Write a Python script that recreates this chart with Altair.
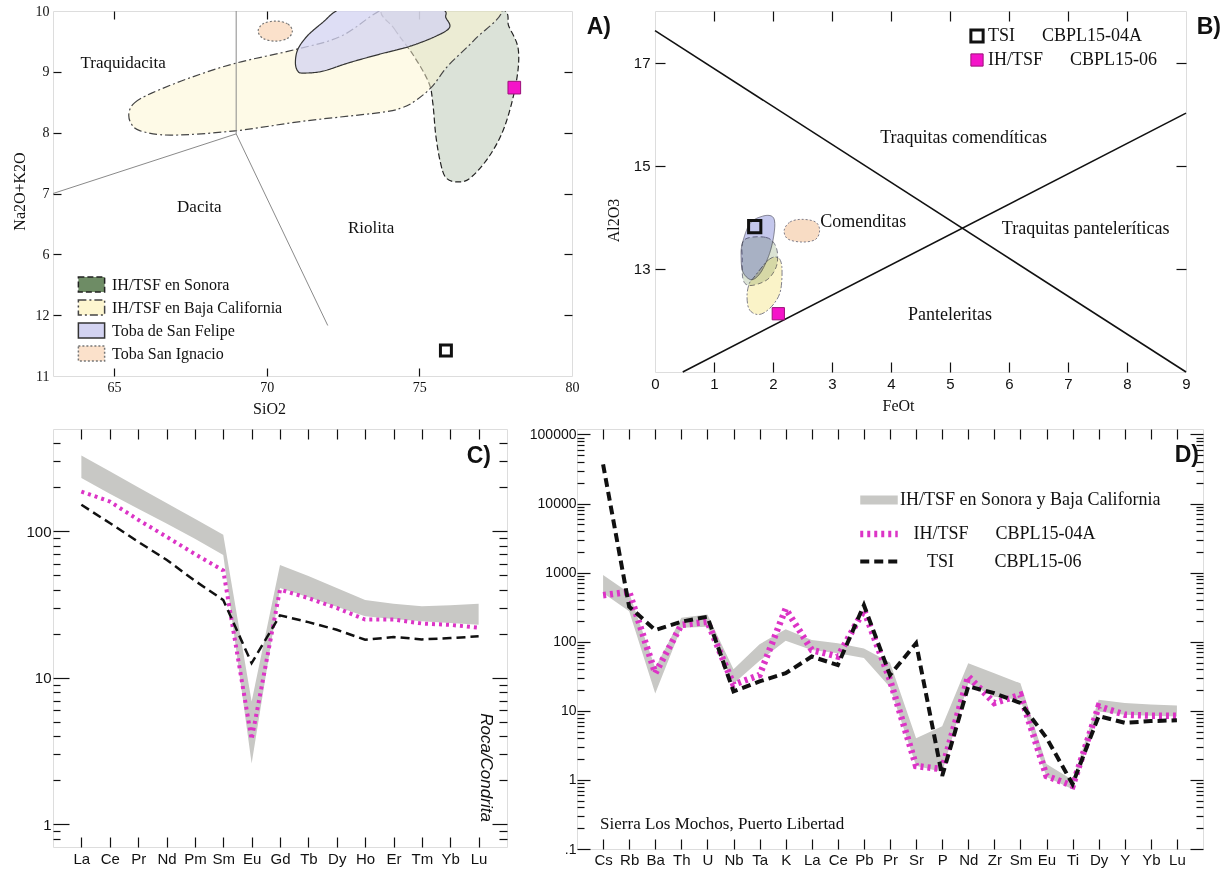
import altair as alt
import pandas as pd

SERIF = "Liberation Serif"
SANS = "Liberation Sans"
INK = "#111111"
CREAM = "#fdfdf3"
MAGENTA_LINE = "#dc34c6"
MAGENTA_MARK = "#f514c9"
MAGENTA_EDGE = "#9c1079"
BAND_GRAY = "#c8c8c5"
NB = "\u00a0"       # non-breaking space, keeps label gaps
ZW = "\u200b"       # zero-width space, keeps leading gaps from being trimmed

# ---------------- A) TAS diagram: SiO2 vs Na2O+K2O ----------------
tas_units = ["IH/TSF en Sonora", "IH/TSF en Baja California", "Toba de San Felipe", "Toba San Ignacio"]
tas_unit_fill = ["#6e8c65", "#fdf6d0", "#d3d3f1", "#fbe1cb"]
tas_unit_edge = ["#222222", "#444444", "#333333", "#777777"]
tas_unit_opacity = [0.25, 1.0, 1.0, 1.0]
tas_unit_dash = [[6, 3], [8, 3, 2, 3], [1, 0], [2, 2]]

sonora_sio2 = [73.82, 74.19, 74.82, 75.31, 75.44, 75.54, 75.69, 75.87, 76.25, 76.68, 77.30, 77.80, 78.17, 78.24, 77.93, 77.68, 75.75]
sonora_alk = [10.05, 9.70, 9.26, 8.82, 8.49, 7.95, 7.51, 7.26, 7.19, 7.26, 7.62, 8.11, 8.82, 9.37, 9.75, 10.05, 10.35]
baja_sio2 = [65.49, 65.67, 66.23, 67.48, 68.97, 70.96, 72.45, 73.88, 75.80, 77.68, 76.81, 75.94, 75.44, 74.94, 74.44, 73.70, 71.21, 68.97, 66.86, 65.86, 65.55]
baja_alk = [8.33, 8.49, 8.65, 8.90, 9.14, 9.37, 9.59, 10.05, 10.35, 10.05, 9.53, 9.10, 8.77, 8.55, 8.41, 8.33, 8.19, 8.03, 7.96, 8.03, 8.16]
felipe_sio2 = [72.45, 71.83, 71.33, 71.02, 70.94, 71.02, 71.21, 71.83, 72.70, 73.70, 74.69, 75.56, 75.99, 75.87, 75.69, 74.00]
felipe_alk = [10.05, 9.81, 9.59, 9.37, 9.15, 9.01, 8.98, 9.01, 9.15, 9.29, 9.42, 9.59, 9.73, 9.89, 10.05, 10.35]
ignacio_sio2 = [70.84, 70.68, 70.28, 69.88, 69.72, 69.88, 70.28, 70.68]
ignacio_alk = [9.67, 9.79, 9.835, 9.79, 9.67, 9.55, 9.505, 9.55]

tas_line_x1 = [69.0, 63.0, 69.0]
tas_line_y1 = [10.0, 7.0, 7.98]
tas_line_x2 = [69.0, 69.0, 72.0]
tas_line_y2 = [7.98, 7.98, 4.83]

tas_names = ["Traquidacita", "Dacita", "Riolita"]
tas_names_x = [65.30, 67.79, 73.42]
tas_names_y = [9.15, 6.78, 6.44]

tas_tsi = (75.87, 4.42)
tas_ihtsf = (78.11, 8.74)

# ---------------- B) Al2O3 vs FeOt ----------------
feo_line_x1 = [0.0, 0.47]
feo_line_y1 = [17.62, 11.0]
feo_line_x2 = [9.0, 9.0]
feo_line_y2 = [11.0, 16.02]

feo_names = ["Traquitas comendíticas", "Comenditas", "Traquitas panteleríticas", "Panteleritas"]
feo_names_x = [5.23, 3.53, 7.30, 5.00]
feo_names_y = [15.54, 13.90, 13.78, 12.11]

b_green_feo = [1.51, 1.88, 2.05, 2.07, 1.95, 1.78, 1.58, 1.49, 1.48]
b_green_al = [13.56, 13.61, 13.43, 13.10, 12.84, 12.72, 12.68, 12.81, 13.17]
b_blue_feo = [1.48, 1.61, 1.82, 1.98, 2.03, 2.00, 1.92, 1.78, 1.63, 1.49, 1.46]
b_blue_al = [13.49, 13.88, 14.02, 14.02, 13.88, 13.56, 13.23, 12.91, 12.79, 12.94, 13.23]
b_yellow_feo = [1.68, 1.92, 2.08, 2.15, 2.13, 2.02, 1.85, 1.71, 1.59, 1.56, 1.60]
b_yellow_al = [12.84, 13.17, 13.22, 13.04, 12.59, 12.33, 12.15, 12.12, 12.23, 12.49, 12.72]
b_peach_feo = [2.19, 2.29, 2.49, 2.72, 2.79, 2.72, 2.49, 2.25]
b_peach_al = [13.75, 13.91, 13.96, 13.91, 13.75, 13.57, 13.52, 13.58]

b_samples = ["TSI" + NB * 6 + "CBPL15-04A", "IH/TSF" + NB * 6 + "CBPL15-06"]
b_samples_feo = [1.69, 2.09]
b_samples_al = [13.82, 12.13]

# ---------------- C) REE normalised to chondrite ----------------
ree = ["La", "Ce", "Pr", "Nd", "Pm", "Sm", "Eu", "Gd", "Tb", "Dy", "Ho", "Er", "Tm", "Yb", "Lu"]
ree_band_lo = [231, 181, 143, 113, 89, 69, 2.6, 41, 35.5, 30.6, 26.3, 25.2, 24.3, 23.7, 23]
ree_band_hi = [330, 257, 200, 156, 122, 95, 6.9, 59, 49.6, 41, 34, 32, 30.8, 31.3, 32]
ree_ihtsf = [187, 160, 120, 92, 70, 54, 3.8, 40, 35, 30, 25, 25, 23.5, 23, 22]
ree_tsi = [152, 114, 85, 64, 46, 34, 12.6, 26.7, 24, 21.3, 18.2, 19, 18.3, 18.7, 19.2]

# ---------------- D) multi-element diagram ----------------
spider = ["Cs", "Rb", "Ba", "Th", "U", "Nb", "Ta", "K", "La", "Ce", "Pb", "Pr", "Sr", "P",
          "Nd", "Zr", "Sm", "Eu", "Ti", "Dy", "Y", "Yb", "Lu"]
spider_band_lo = [506, 277, 17.8, 160, 165, 24.7, 53, 103, 76, 68, 58, 22, 1.6, 1.3, 25, 16, 14.5, 1.1, 0.73, 9.8, 8.8, 8.5, 8.3]
spider_band_hi = [925, 506, 42, 222, 248, 40, 92, 151, 106, 95, 80, 50, 4, 6, 49, 35, 25, 1.7, 1.0, 14.5, 13, 12.3, 11.9]
spider_ihtsf = [472, 527, 35, 175, 195, 23.9, 33, 300, 76, 61, 287, 28, 1.59, 1.43, 31.5, 13, 17, 1.14, 0.82, 11.6, 8.8, 8.5, 8.5]
spider_tsi = [37000, 321, 148, 195, 230, 19.1, 26.7, 35, 61, 46, 338, 33, 95, 1.14, 22.6, 18, 13, 4.07, 0.87, 8.4, 6.7, 7.1, 7.3]
spider_series = ["IH/TSF en Sonora y Baja California",
                 ZW + NB * 3 + "IH/TSF" + NB * 6 + "CBPL15-04A",
                 ZW + NB * 6 + "TSI" + NB * 9 + "CBPL15-06"]
spider_note = ["Sierra Los Mochos, Puerto Libertad"]

ree_ticks = [0.8, 0.9, 1, 2, 3, 4, 5, 6, 7, 8, 9, 10, 20, 30, 40, 50, 60, 70, 80, 90,
             100, 200, 300, 400]
spider_ticks = [0.1, 0.2, 0.3, 0.4, 0.5, 0.6, 0.7, 0.8, 0.9,
                1, 2, 3, 4, 5, 6, 7, 8, 9,
                10, 20, 30, 40, 50, 60, 70, 80, 90,
                100, 200, 300, 400, 500, 600, 700, 800, 900,
                1000, 2000, 3000, 4000, 5000, 6000, 7000, 8000, 9000,
                10000, 20000, 30000, 40000, 50000, 60000, 70000, 80000, 90000,
                100000]

MAJOR = "abs(log(datum.value) / LN10 - round(log(datum.value) / LN10)) < 0.001"
INDEPENDENT = dict(fill="independent", stroke="independent", strokeDash="independent",
                   strokeWidth="independent", color="independent", fillOpacity="independent")


def tick_axis(orient, offset, values, size, **extra):
    """Axis that only draws tick marks; a negative offset moves it onto the
    opposite frame edge so the ticks point into the plot."""
    extra.setdefault("title", None)
    return alt.Axis(orient=orient, offset=offset, values=values, tickSize=size,
                    ticks=True, labels=False, domain=False, grid=False,
                    tickColor=INK, tickWidth=1.2, **extra)


def label_axis(orient, values, font, size, pad, **extra):
    extra.setdefault("title", None)
    return alt.Axis(orient=orient, values=values, ticks=False, tickSize=0, domain=False,
                    grid=False, labelFont=font, labelFontSize=size, labelColor=INK,
                    labelPadding=pad, labelFlush=False, labelOverlap=False, labelAngle=0,
                    titleFont=SERIF, titleFontWeight="normal", titleColor=INK, **extra)


def panel_title(text, dx, dy):
    return alt.TitleParams(text, anchor="end", frame="group", orient="top", offset=0,
                           align="right", baseline="top", dx=dx, dy=dy, font=SANS,
                           fontSize=23, fontWeight="bold", color=INK)


def outline_rows(groups):
    rows = []
    for name, xs, ys in groups:
        for i, (x, y) in enumerate(zip(xs, ys)):
            rows.append({"unit": name, "i": i, "x": x, "y": y})
    return pd.DataFrame(rows)


# ================= panel A =================
W_A, H_A = 519, 365
xA = alt.Scale(domain=[63, 80], nice=False, zero=False)
yA = alt.Scale(domain=[4, 10], nice=False, zero=False)

tas_fields = outline_rows([
    (tas_units[0], sonora_sio2, sonora_alk),
    (tas_units[1], baja_sio2, baja_alk),
    (tas_units[2], felipe_sio2, felipe_alk),
    (tas_units[3], ignacio_sio2, ignacio_alk),
])

legend_a = dict(title=None, orient="none", legendX=30, legendY=265, direction="vertical",
                symbolType="M-1.75,-1H1.75V1H-1.75Z", symbolSize=225,
                symbolStrokeWidth=1.5, symbolOpacity=1,
                labelFont=SERIF, labelFontSize=16, labelColor=INK, labelOffset=12,
                labelLimit=0, rowPadding=2, padding=0)

fields_a = alt.Chart(tas_fields).mark_line(
    interpolate="cardinal-closed", strokeWidth=1.2, blend="multiply", clip=True
).encode(
    x=alt.X("x:Q", scale=xA, axis=label_axis("bottom", [65, 70, 75, 80], SERIF, 14, 4,
                                             title="SiO2", titleFontSize=16, titleX=216, titlePadding=6)),
    y=alt.Y("y:Q", scale=yA, axis=label_axis("left", [4, 5, 6, 7, 8, 9, 10], SERIF, 14, 4,
                                             labelExpr="datum.value == 5 ? '12' : datum.value == 4 ? '11' : datum.label",
                                             title="Na2O+K2O", titleFontSize=16, titleY=180, titlePadding=8)),
    order=alt.Order("i:Q"),
    fill=alt.Fill("unit:N", scale=alt.Scale(domain=tas_units, range=tas_unit_fill), legend=alt.Legend(**legend_a)),
    stroke=alt.Stroke("unit:N", scale=alt.Scale(domain=tas_units, range=tas_unit_edge), legend=alt.Legend(**legend_a)),
    strokeDash=alt.StrokeDash("unit:N", scale=alt.Scale(domain=tas_units, range=tas_unit_dash), legend=alt.Legend(**legend_a)),
    fillOpacity=alt.FillOpacity("unit:N", scale=alt.Scale(domain=tas_units, range=tas_unit_opacity), legend=None),
)

div_a = alt.Chart(pd.DataFrame({"x": tas_line_x1, "y": tas_line_y1, "x2": tas_line_x2, "y2": tas_line_y2})
                  ).mark_rule(color="#8a8a8a", strokeWidth=1).encode(
    x=alt.X("x:Q", scale=xA, axis=tick_axis("top", -H_A, [65, 70, 75], 8)),
    y=alt.Y("y:Q", scale=yA, axis=tick_axis("right", -W_A, [5, 6, 7, 8, 9], 8)),
    x2="x2:Q", y2="y2:Q",
)

names_a = alt.Chart(pd.DataFrame({"x": tas_names_x, "y": tas_names_y, "t": tas_names})
                    ).mark_text(font=SERIF, fontSize=17, color=INK).encode(
    x=alt.X("x:Q", scale=xA, axis=tick_axis("bottom", -H_A, [65, 70, 75], 8)),
    y=alt.Y("y:Q", scale=yA, axis=tick_axis("left", -W_A, [5, 6, 7, 8, 9], 8)),
    text="t:N",
)

tsi_a = alt.Chart(pd.DataFrame({"x": [tas_tsi[0]], "y": [tas_tsi[1]]})).mark_point(
    shape="square", size=120, filled=False, stroke=INK, strokeWidth=3, opacity=1
).encode(x=alt.X("x:Q", scale=xA, axis=None), y=alt.Y("y:Q", scale=yA, axis=None))

ih_a = alt.Chart(pd.DataFrame({"x": [tas_ihtsf[0]], "y": [tas_ihtsf[1]]})).mark_point(
    shape="square", size=160, filled=True, fill=MAGENTA_MARK, stroke=MAGENTA_EDGE, strokeWidth=1, opacity=1
).encode(x=alt.X("x:Q", scale=xA, axis=None), y=alt.Y("y:Q", scale=yA, axis=None))

chart_a = alt.layer(fields_a, div_a, names_a, tsi_a, ih_a).properties(
    width=W_A, height=H_A, title=panel_title("A)", 39, 35)
).resolve_axis(x="independent", y="independent")

# ================= panel B =================
W_B, H_B = 531, 361
xB = alt.Scale(domain=[0, 9], nice=False, zero=False)
yB = alt.Scale(domain=[11, 18], nice=False, zero=False)

blob_styles = [
    ("green", b_green_feo, b_green_al, "#dbe3d4", [5, 3]),
    ("blue", b_blue_feo, b_blue_al, "#c4c7ec", [1, 0]),
    ("yellow", b_yellow_feo, b_yellow_al, "#faf3c8", [6, 2, 2, 2]),
    ("peach", b_peach_feo, b_peach_al, "#f8dcc4", [2, 2]),
]
blob_layers = []
for k, (name, xs, ys, colour, dash) in enumerate(blob_styles):
    df = pd.DataFrame({"x": xs, "y": ys, "i": list(range(len(xs)))})
    enc = dict(order=alt.Order("i:Q"))
    if k == 0:
        enc["x"] = alt.X("x:Q", scale=xB, axis=label_axis("bottom", list(range(10)), SANS, 15, 4,
                                                          title="FeOt", titleFontSize=16, titleX=243, titlePadding=6))
        enc["y"] = alt.Y("y:Q", scale=yB, axis=label_axis("left", [13, 15, 17], SANS, 15, 5,
                                                          title="Al2O3", titleFontSize=16, titleY=209, titlePadding=12))
    else:
        enc["x"] = alt.X("x:Q", scale=xB, axis=None)
        enc["y"] = alt.Y("y:Q", scale=yB, axis=None)
    blob_layers.append(alt.Chart(df).mark_line(
        interpolate="cardinal-closed", fill=colour, stroke="#707080", strokeWidth=0.9,
        strokeDash=dash, blend="multiply").encode(**enc))

div_b = alt.Chart(pd.DataFrame({"x": feo_line_x1, "y": feo_line_y1, "x2": feo_line_x2, "y2": feo_line_y2})
                  ).mark_rule(color=INK, strokeWidth=1.6).encode(
    x=alt.X("x:Q", scale=xB, axis=tick_axis("top", -H_B, list(range(1, 9)), 10)),
    y=alt.Y("y:Q", scale=yB, axis=tick_axis("right", -W_B, [13, 15, 17], 10)),
    x2="x2:Q", y2="y2:Q",
)

names_b = alt.Chart(pd.DataFrame({"x": feo_names_x, "y": feo_names_y, "t": feo_names})
                    ).mark_text(font=SERIF, fontSize=18, color=INK).encode(
    x=alt.X("x:Q", scale=xB, axis=tick_axis("bottom", -H_B, list(range(1, 9)), 10)),
    y=alt.Y("y:Q", scale=yB, axis=tick_axis("left", -W_B, [13, 15, 17], 10)),
    text="t:N",
)

legend_b = dict(title=None, orient="none", legendX=313, legendY=16, symbolType="square",
                symbolSize=150, labelFont=SERIF, labelFontSize=18, labelColor=INK,
                labelOffset=2, labelLimit=0, rowPadding=2, padding=0, symbolOpacity=1)
samples_b = alt.Chart(pd.DataFrame({"x": b_samples_feo, "y": b_samples_al, "s": b_samples})).mark_point(
    shape="square", size=150, filled=True, opacity=1
).encode(
    x=alt.X("x:Q", scale=xB, axis=None),
    y=alt.Y("y:Q", scale=yB, axis=None),
    fill=alt.Fill("s:N", scale=alt.Scale(domain=b_samples, range=["transparent", MAGENTA_MARK]), legend=alt.Legend(**legend_b)),
    stroke=alt.Stroke("s:N", scale=alt.Scale(domain=b_samples, range=[INK, MAGENTA_EDGE]), legend=alt.Legend(**legend_b)),
    strokeWidth=alt.StrokeWidth("s:N", scale=alt.Scale(domain=b_samples, range=[3, 1]), legend=alt.Legend(**legend_b)),
)

chart_b = alt.layer(*blob_layers, div_b, names_b, samples_b).properties(
    width=W_B, height=H_B, title=panel_title("B)", 35, 29)
).resolve_axis(x="independent", y="independent")

# ================= panel C =================
W_C, H_C = 454, 418
xC = alt.Scale(type="point", padding=1, domain=ree)
yC = alt.Scale(type="log", domain=[0.7, 500], nice=False)
ree_df = pd.DataFrame({"el": ree, "lo": ree_band_lo, "hi": ree_band_hi, "ih": ree_ihtsf, "tsi": ree_tsi})

band_c = alt.Chart(ree_df).mark_area(color=BAND_GRAY, opacity=1).encode(
    x=alt.X("el:N", scale=xC, sort=ree, axis=label_axis("bottom", ree, SANS, 15, 4)),
    y=alt.Y("lo:Q", scale=yC, axis=label_axis("left", [1, 10, 100], SANS, 15, 2,
                                              labelExpr="format(datum.value, 'd')")),
    y2="hi:Q",
)
ih_c = alt.Chart(ree_df).mark_line(color=MAGENTA_LINE, strokeWidth=4, strokeDash=[3, 4]).encode(
    x=alt.X("el:N", scale=xC, sort=ree, axis=tick_axis("top", -H_C, ree, 10)),
    y=alt.Y("ih:Q", scale=yC, axis=tick_axis("right", -W_C, ree_ticks,
                                             {"condition": {"test": MAJOR, "value": 16}, "value": 7})),
)
tsi_c = alt.Chart(ree_df).mark_line(color=INK, strokeWidth=2.5, strokeDash=[9, 5]).encode(
    x=alt.X("el:N", scale=xC, sort=ree, axis=tick_axis("bottom", -H_C, ree, 10)),
    y=alt.Y("tsi:Q", scale=yC, axis=tick_axis("left", -W_C, ree_ticks,
                                              {"condition": {"test": MAJOR, "value": 15}, "value": 8},
                                              title="Roca/Condrita", titleAngle=90, titleX=-22,
                                              titleY=338, titleBaseline="middle", titleFont=SANS,
                                              titleFontSize=17, titleFontStyle="italic",
                                              titleFontWeight="normal", titleColor=INK)),
)
chart_c = alt.layer(band_c, ih_c, tsi_c).properties(
    width=W_C, height=H_C, title=panel_title("C)", -16, 40)
).resolve_axis(x="independent", y="independent")

# ================= panel D =================
W_D, H_D = 626, 420
xD = alt.Scale(type="point", padding=1, domain=spider)
yD = alt.Scale(type="log", domain=[0.1, 120000], nice=False)
spider_band = pd.DataFrame({"el": spider, "lo": spider_band_lo, "hi": spider_band_hi})
spider_lines = pd.concat([
    pd.DataFrame({"el": spider, "v": spider_ihtsf, "serie": spider_series[1]}),
    pd.DataFrame({"el": spider, "v": spider_tsi, "serie": spider_series[2]}),
])

band_d = alt.Chart(spider_band).mark_area(color=BAND_GRAY, opacity=1).encode(
    x=alt.X("el:N", scale=xD, sort=spider, axis=label_axis("bottom", spider, SANS, 15, 3)),
    y=alt.Y("lo:Q", scale=yD, axis=label_axis("left", [0.1, 1, 10, 100, 1000, 10000, 100000], SANS, 14, 1,
                                              labelExpr="datum.value < 0.5 ? '.1' : format(datum.value, 'd')")),
    y2="hi:Q",
)
legend_d = dict(title=None, orient="none", legendX=285, legendY=54, symbolType="M-1.5,0H1.5",
                symbolSize=625, labelFont=SERIF, labelFontSize=18, labelColor=INK,
                labelOffset=4, labelLimit=0, rowPadding=0, padding=0, symbolOpacity=1)
lines_d = alt.Chart(spider_lines).mark_line(strokeCap="butt").encode(
    x=alt.X("el:N", scale=xD, sort=spider, axis=tick_axis("top", -H_D, spider, 10)),
    y=alt.Y("v:Q", scale=yD, axis=tick_axis("right", -W_D, spider_ticks,
                                            {"condition": {"test": MAJOR, "value": 13}, "value": 7})),
    color=alt.Color("serie:N", scale=alt.Scale(domain=spider_series, range=[BAND_GRAY, MAGENTA_LINE, INK]),
                    legend=alt.Legend(**legend_d)),
    strokeDash=alt.StrokeDash("serie:N", scale=alt.Scale(domain=spider_series, range=[[1, 0], [3, 4], [9, 5]]),
                              legend=alt.Legend(**legend_d)),
    strokeWidth=alt.StrokeWidth("serie:N", scale=alt.Scale(domain=spider_series, range=[9, 4, 2.5]),
                                legend=alt.Legend(**legend_d)),
)
note_d = alt.Chart(pd.DataFrame({"el": [spider[0]], "v": [0.23], "t": spider_note})).mark_text(
    font=SERIF, fontSize=17, color=INK, align="left", dx=-3
).encode(
    x=alt.X("el:N", scale=xD, sort=spider, axis=tick_axis("bottom", -H_D, spider, 10)),
    y=alt.Y("v:Q", scale=yD, axis=tick_axis("left", -W_D, spider_ticks,
                                            {"condition": {"test": MAJOR, "value": 13}, "value": 7})),
    text="t:N",
)
chart_d = alt.layer(band_d, lines_d, note_d).properties(
    width=W_D, height=H_D, title=panel_title("D)", -4, 40)
).resolve_axis(x="independent", y="independent")

# ================= layout =================
top_row = alt.hconcat(chart_a, chart_b, spacing=83, bounds="flush"
                      ).resolve_scale(**INDEPENDENT).resolve_legend(fill="independent", stroke="independent",
                                                                   strokeDash="independent", strokeWidth="independent")
bottom_row = alt.hconcat(chart_c, chart_d, spacing=70, bounds="flush").resolve_scale(**INDEPENDENT)

chart = alt.vconcat(top_row, bottom_row, spacing=9).resolve_scale(**INDEPENDENT).resolve_legend(
    fill="independent", stroke="independent", strokeDash="independent",
    strokeWidth="independent", color="independent"
).properties(
    padding={"left": 10, "top": 3, "right": 2, "bottom": 2}, background="white"
).configure_view(
    stroke=INK, strokeWidth=2, fill=CREAM
).configure(font=SERIF)

chart.save("out.html", embed_options={"renderer": "svg", "actions": False})
